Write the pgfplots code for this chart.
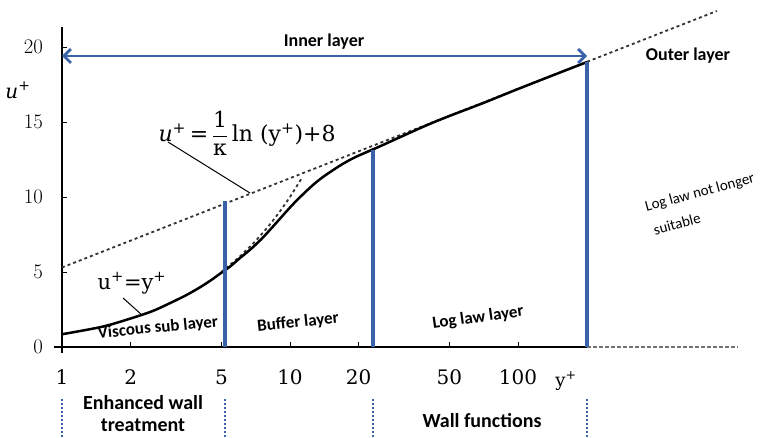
\documentclass[border=0pt]{standalone}
\usepackage{fontspec}
\setmainfont{DejaVu Serif}
\newfontfamily\calib{Carlito}
\usepackage{pgfplots}
\pgfplotsset{compat=1.18}
\usetikzlibrary{arrows.meta}
\definecolor{zoneblue}{RGB}{58,98,168}

\begin{document}
\begin{tikzpicture}
\path[use as bounding box] (0,0) rectangle (763pt,438pt);
\begin{axis}[
  at={(62pt,91pt)}, anchor=south west,
  scale only axis, width=684pt, height=319.5pt,
  xmode=log, xmin=1, xmax=1000, ymin=0, ymax=21.3,
  axis x line=bottom, axis y line=left,
  axis line style={draw=none},
  xtick={1,2,5,10,20,50,100}, xticklabels={1,2,5,10,20,50,100},
  xminorticks=false,
  ytick={0,5,10,15,20},
  tick align=inside, major tick length=5pt,
  tick style={black, line width=0.9pt},
  ticklabel style={font=\fontsize{20}{20}\selectfont, inner sep=0pt},
  xticklabel style={anchor=center, yshift=-30pt},
  yticklabel style={anchor=east, xshift=-19pt},
  clip=false,
]
% axis lines
\draw[black, line width=1.3pt] ([xshift=-8pt]axis cs:1,0) -- (axis cs:201,0);
\draw[black!55, line width=1.2pt, dash pattern=on 4pt off 2pt] (axis cs:201,0) -- (axis cs:920,0);
\draw[black, line width=1.3pt] ([yshift=-6pt]axis cs:1,0) -- (axis cs:1,21.3);

% log law (dotted) and linear law continued into the buffer layer
\addplot[black!80, line width=1.8pt, dash pattern=on 3pt off 3pt] coordinates {(1,5.3) (745,22.4)};
\addplot[black!80, line width=1.8pt, dash pattern=on 3pt off 3pt] coordinates {(5,5) (6,6) (7,7) (8,8) (9,9) (10,10) (11.2,11.2)};

% velocity profile
\addplot[black, line width=2.5pt, smooth] coordinates {
  (1,0.85) (1.5,1.35) (2,1.9) (2.5,2.4) (3,2.95) (3.5,3.45) (4,3.95) (4.5,4.45)
  (5,4.95) (5.5,5.4) (6,5.9) (6.7,6.5) (7.5,7.2) (8.5,8.1) (10,9.3) (11,9.95)
  (12.5,10.75) (14,11.35) (16.6,12.1) (19,12.6) (22.5,13.1) (25,13.4) (30,13.95)
  (40,14.8) (50,15.4) (70,16.25) (100,17.2) (150,18.25) (201,19.0)};

% layer boundaries
\addplot[zoneblue, line width=3.5pt] coordinates {(5.2,0) (5.2,9.7)};
\addplot[zoneblue, line width=3.5pt] coordinates {(23.1,0) (23.1,13.15)};
\addplot[zoneblue, line width=3.5pt] coordinates {(201,0) (201,19.0)};
\addplot[zoneblue, line width=2.8pt,
  {Straight Barb[length=7pt,width=14pt]}-{Straight Barb[length=7pt,width=14pt]}]
  coordinates {(1,19.4) (201,19.4)};

% boundaries of the near-wall treatments
\draw[zoneblue, line width=2pt, dash pattern=on 1.5pt off 2.5pt] (axis cs:1,-3.5) -- (axis cs:1,-6.07);
\draw[zoneblue, line width=2pt, dash pattern=on 1.5pt off 2.5pt] (axis cs:5.2,-3.5) -- (axis cs:5.2,-6.07);
\draw[zoneblue, line width=2pt, dash pattern=on 1.5pt off 2.5pt] (axis cs:23.1,-3.5) -- (axis cs:23.1,-6.07);
\draw[zoneblue, line width=2pt, dash pattern=on 1.5pt off 2.5pt] (axis cs:201,-3.5) -- (axis cs:201,-6.07);
\end{axis}

\begin{scope}[x=1pt, y=-1pt, shift={(0,438pt)}]
\node[font=\calib\bfseries\fontsize{18}{18}\selectfont] at (324,42) {Inner layer};
\node[font=\calib\bfseries\fontsize{18}{18}\selectfont] at (688,56) {Outer layer};
\node[font=\calib\fontsize{15}{15}\selectfont, rotate=15] at (700,193) {Log law not longer};
\node[font=\calib\fontsize{15}{15}\selectfont, rotate=15] at (677,224) {suitable};
\node[font=\calib\bfseries\fontsize{17}{17}\selectfont, rotate=5.5] at (158,328) {Viscous sub layer};
\node[font=\calib\bfseries\fontsize{17}{17}\selectfont, rotate=6] at (298,323) {Buffer layer};
\node[font=\calib\bfseries\fontsize{17}{17}\selectfont, rotate=8] at (478,318) {Log law layer};
\node[font=\calib\bfseries\fontsize{20}{22}\selectfont, align=center] at (143,414) {Enhanced wall\\treatment};
\node[font=\calib\bfseries\fontsize{20}{20}\selectfont] at (482,421) {Wall functions};
\node[font=\fontsize{20}{20}\selectfont] at (18,90) {{\itshape u}\textsuperscript{+}};
\node[font=\fontsize{18}{18}\selectfont] at (566,381) {y\textsuperscript{+}};
\node[font=\fontsize{22}{22}\selectfont, anchor=west] at (155,133)
  {{\itshape u}\textsuperscript{+}\,=\,$\displaystyle\frac{\mbox{1}}{\mbox{κ}}$\,ln (y\textsuperscript{+})+8};
\node[font=\fontsize{21}{21}\selectfont] at (132,283) {u\textsuperscript{+}=y\textsuperscript{+}};
\draw[black, line width=1pt] (168,142) -- (250,193);
\draw[black, line width=1pt] (123,298) -- (142,315);
\end{scope}
\end{tikzpicture}
\end{document}
